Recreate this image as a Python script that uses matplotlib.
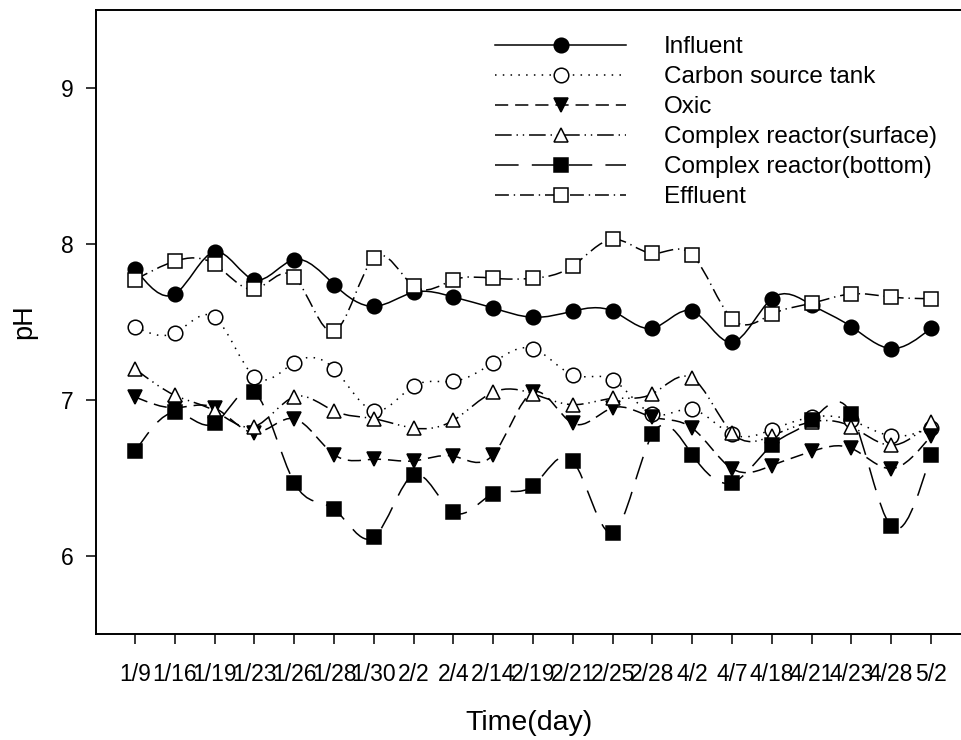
import numpy as np
import matplotlib
matplotlib.use("Agg")
import matplotlib.pyplot as plt
from matplotlib.path import Path
from matplotlib.patches import PathPatch
from matplotlib.lines import Line2D

plt.rcParams['font.family'] = ['Liberation Sans', 'DejaVu Sans']
plt.rcParams['lines.scale_dashes'] = False

dates = ["1/9", "1/16", "1/19", "1/23", "1/26", "1/28", "1/30", "2/2", "2/4", "2/14",
         "2/19", "2/21", "2/25", "2/28", "4/2", "4/7", "4/18", "4/21", "4/23", "4/28", "5/2"]

influent = [7.84, 7.68, 7.95, 7.77, 7.90, 7.74, 7.60, 7.69, 7.66, 7.59,
            7.53, 7.57, 7.57, 7.46, 7.57, 7.37, 7.65, 7.61, 7.47, 7.33, 7.46]
carbon = [7.47, 7.43, 7.53, 7.15, 7.24, 7.20, 6.93, 7.09, 7.12, 7.24,
          7.33, 7.16, 7.13, 6.91, 6.94, 6.78, 6.81, 6.89, 6.87, 6.77, 6.82]
oxic = [7.02, 6.95, 6.95, 6.79, 6.88, 6.65, 6.62, 6.61, 6.64, 6.65,
        7.05, 6.85, 6.95, 6.89, 6.82, 6.56, 6.58, 6.67, 6.69, 6.56, 6.77]
surface = [7.20, 7.03, 6.93, 6.83, 7.02, 6.93, 6.88, 6.82, 6.87, 7.05,
           7.04, 6.97, 7.01, 7.04, 7.14, 6.79, 6.77, 6.86, 6.83, 6.71, 6.86]
bottom = [6.67, 6.92, 6.85, 7.05, 6.47, 6.30, 6.12, 6.52, 6.28, 6.40,
          6.45, 6.61, 6.15, 6.78, 6.65, 6.47, 6.71, 6.87, 6.91, 6.19, 6.65]
effluent = [7.77, 7.89, 7.87, 7.71, 7.79, 7.44, 7.91, 7.73, 7.77, 7.78,
            7.78, 7.86, 8.03, 7.94, 7.93, 7.52, 7.55, 7.62, 7.68, 7.66, 7.65]

names = ["Influent", "Carbon source tank", "Oxic", "Complex reactor(surface)",
         "Complex reactor(bottom)", "Effluent"]
series = [influent, carbon, oxic, surface, bottom, effluent]
markers = ['o', 'o', 'v', '^', 's', 's']
mfcs = ['black', 'white', 'black', 'white', 'black', 'white']
msizes = [10.5, 10.5, 10.5, 10.5, 9.5, 9.5]
dashes = [None, (1.1, 4.5), (9.5, 5.0), (12.0, 3.5, 1.0, 3.5, 1.0, 3.5),
          (17.0, 9.5), (10.0, 3.5, 1.0, 3.5)]


def spline_path(x, y):
    x = np.asarray(x, float)
    y = np.asarray(y, float)
    n = len(x)
    h = np.diff(x)
    A = np.zeros((n, n))
    b = np.zeros(n)
    A[0, 0] = 1
    A[-1, -1] = 1
    for i in range(1, n - 1):
        A[i, i - 1] = h[i - 1]
        A[i, i] = 2 * (h[i - 1] + h[i])
        A[i, i + 1] = h[i]
        b[i] = 6 * ((y[i + 1] - y[i]) / h[i] - (y[i] - y[i - 1]) / h[i - 1])
    M = np.linalg.solve(A, b)
    verts = [(x[0], y[0])]
    codes = [Path.MOVETO]
    for i in range(n - 1):
        s = (y[i + 1] - y[i]) / h[i]
        d0 = s - h[i] * (2 * M[i] + M[i + 1]) / 6
        d1 = s + h[i] * (M[i] + 2 * M[i + 1]) / 6
        verts += [(x[i] + h[i] / 3, y[i] + h[i] * d0 / 3),
                  (x[i + 1] - h[i] / 3, y[i + 1] - h[i] * d1 / 3),
                  (x[i + 1], y[i + 1])]
        codes += [Path.CURVE4] * 3
    return Path(verts, codes)


W, H = 962, 740
fig = plt.figure(figsize=(W / 100, H / 100), dpi=100)
ax = fig.add_axes([95.7 / W, 1 - 634 / H, (W - 95.7) / W, (634 - 10) / H])

x = np.arange(1, len(dates) + 1)
lw = 1.1
handles = []
for vals, name, mk, fc, ms, ds in zip(series, names, markers, mfcs, msizes, dashes):
    ls = '-' if ds is None else (0, ds)
    patch = PathPatch(spline_path(x, vals), fill=False, edgecolor='black',
                      linewidth=lw, linestyle=ls, capstyle='butt')
    ax.add_patch(patch)
    ax.plot(x, vals, linestyle='none', marker=mk, markersize=ms,
            markerfacecolor=fc, markeredgecolor='black', markeredgewidth=1.1)
    handles.append(Line2D([], [], color='black', linewidth=lw, linestyle=ls,
                          marker=mk, markersize=ms, markerfacecolor=fc,
                          markeredgecolor='black', markeredgewidth=1.1,
                          dash_capstyle='butt'))

ax.set_xlim(0.01, 21.78)
ax.set_ylim(5.5, 9.5)
ax.set_xticks(x)
ax.set_xticklabels(dates)
ax.set_yticks([6, 7, 8, 9])
ax.tick_params(axis='both', direction='out', length=7, width=1.1, labelsize=16.5)
ax.tick_params(axis='x', pad=14)
ax.tick_params(axis='y', pad=9)
for sp in ['left', 'top', 'bottom']:
    ax.spines[sp].set_linewidth(1.4)
ax.spines['right'].set_visible(False)

ax.set_xlabel("Time(day)", fontsize=20.5)
ax.xaxis.set_label_coords(0.5, (634 - 730) / 624)
ax.xaxis.label.set_va('baseline')
ax.set_ylabel("pH", fontsize=19.5)
ax.yaxis.set_label_coords(-0.068, 0.5)

leg = ax.legend(handles, names, loc='upper left',
                bbox_to_anchor=(495 / W, 1 - 36 / H), bbox_transform=fig.transFigure,
                frameon=False, fontsize=17.5, handlelength=5.4, handletextpad=1.56,
                labelspacing=0.33, borderpad=0, borderaxespad=0, numpoints=1)

fig.savefig("out.png", dpi=100)
